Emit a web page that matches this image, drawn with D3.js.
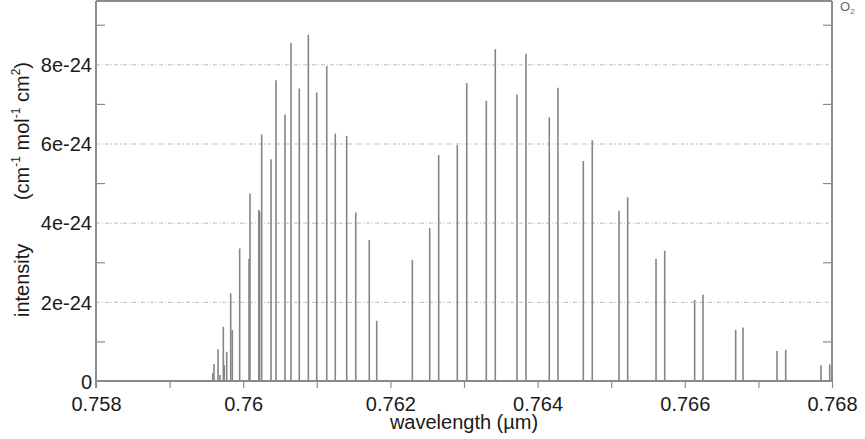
<!DOCTYPE html>
<html>
<head>
<meta charset="utf-8">
<script src="https://cdn.jsdelivr.net/npm/d3@7"></script>
<style>
  html, body { margin: 0; padding: 0; background: #fff; }
  svg { display: block; font-family: "Liberation Sans", Arial, Helvetica, sans-serif; }
</style>
</head>
<body>
<svg id="chart" width="865" height="439"></svg>
<script>
// ---- data (wavelength in µm, intensity in cm^-1 / (molecule cm^-2)) ----
const wavelengths = [
  0.759586, 0.759603, 0.759658, 0.759685, 0.759730, 0.759743, 0.759776, 0.759830, 0.759852,
  0.759952, 0.760079, 0.760092, 0.760212, 0.760222, 0.760251, 0.760378, 0.760446, 0.760568,
  0.760649, 0.760762, 0.760885, 0.760999, 0.761135, 0.761251, 0.761406, 0.761529, 0.761713,
  0.761814, 0.762298, 0.762534, 0.762656, 0.762909, 0.763037, 0.763303, 0.763425, 0.763720,
  0.763842, 0.764159, 0.764277, 0.764621, 0.764743, 0.765106, 0.765224, 0.765609, 0.765727,
  0.766134, 0.766247, 0.766691, 0.766791, 0.767253, 0.767371, 0.767850, 0.767969
];
const intensities = [
  0.20e-24, 0.43e-24, 0.80e-24, 0.15e-24, 1.37e-24, 0.40e-24, 0.74e-24, 2.21e-24, 1.29e-24,
  3.35e-24, 3.08e-24, 4.74e-24, 4.32e-24, 4.28e-24, 6.23e-24, 5.60e-24, 7.60e-24, 6.73e-24,
  8.54e-24, 7.39e-24, 8.75e-24, 7.29e-24, 7.96e-24, 6.25e-24, 6.19e-24, 4.26e-24, 3.56e-24,
  1.52e-24, 3.06e-24, 3.86e-24, 5.71e-24, 5.96e-24, 7.53e-24, 7.08e-24, 8.38e-24, 7.24e-24,
  8.27e-24, 6.66e-24, 7.41e-24, 5.56e-24, 6.08e-24, 4.30e-24, 4.64e-24, 3.08e-24, 3.29e-24,
  2.05e-24, 2.18e-24, 1.29e-24, 1.35e-24, 0.76e-24, 0.79e-24, 0.40e-24, 0.42e-24
];
const xTickValues = [0.758, 0.759, 0.760, 0.761, 0.762, 0.763, 0.764, 0.765, 0.766, 0.767, 0.768];
const xTickLabels = ["0.758", "", "0.76", "", "0.762", "", "0.764", "", "0.766", "", "0.768"];
const yMajorValues = [0, 2e-24, 4e-24, 6e-24, 8e-24];
const yMajorLabels = ["0", "2e-24", "4e-24", "6e-24", "8e-24"];
const yMinorValues = [1e-24, 3e-24, 5e-24, 7e-24, 9e-24];
const xDomain = [0.758, 0.768];
const yDomain = [0, 9.6e-24];

// ---- layout ----
const svg = d3.select("#chart");
const W = 865, H = 439;
const m = { left: 96, right: 33, top: 1, bottom: 58 };
const x = d3.scaleLinear().domain(xDomain).range([m.left, W - m.right]);
const y = d3.scaleLinear().domain(yDomain).range([H - m.bottom, m.top]);
const axisColor = "#8c8c8c";
const textColor = "#1a1a1a";

// grid lines (dashed)
svg.append("g")
  .attr("transform", `translate(${m.left},0)`)
  .call(d3.axisLeft(y).tickValues(yMajorValues.slice(1)).tickSize(-(W - m.left - m.right)).tickFormat(""))
  .call(g => g.select(".domain").remove())
  .call(g => g.selectAll("line").attr("stroke", "#bdbdbd").attr("stroke-width", 1).attr("stroke-dasharray", "4,2,1,2"));

// spectral lines
svg.append("g")
  .selectAll("line")
  .data(wavelengths.map((w, i) => ({ w, v: intensities[i] })))
  .join("line")
  .attr("x1", d => x(d.w)).attr("x2", d => x(d.w))
  .attr("y1", y(0)).attr("y2", d => y(d.v))
  .attr("stroke", "#858585")
  .attr("stroke-width", 1.6);

// baseline
svg.append("line")
  .attr("x1", x(xDomain[0])).attr("x2", x(xDomain[1]))
  .attr("y1", y(0)).attr("y2", y(0))
  .attr("stroke", "#8a8a8a").attr("stroke-width", 2.2);

// frame: top + right
svg.append("line")
  .attr("x1", x(xDomain[0])).attr("x2", x(xDomain[1]))
  .attr("y1", y(yDomain[1])).attr("y2", y(yDomain[1]))
  .attr("stroke", axisColor).attr("stroke-width", 2);
svg.append("line")
  .attr("x1", x(xDomain[1])).attr("x2", x(xDomain[1]))
  .attr("y1", y(yDomain[1])).attr("y2", y(0) + 1)
  .attr("stroke", axisColor).attr("stroke-width", 2);

// right minor ticks (inward)
svg.append("g")
  .attr("transform", `translate(${x(xDomain[1])},0)`)
  .call(d3.axisRight(y).tickValues(yMinorValues).tickSize(-9).tickFormat(""))
  .call(g => g.select(".domain").remove())
  .call(g => g.selectAll("line").attr("stroke", axisColor).attr("stroke-width", 1.2));

// left axis: labels
const yAxisG = svg.append("g")
  .attr("transform", `translate(${m.left},0)`)
  .call(d3.axisLeft(y).tickValues(yMajorValues).tickSize(0).tickPadding(4)
    .tickFormat((d, i) => yMajorLabels[i]));
yAxisG.select(".domain").remove();
yAxisG.selectAll("text")
  .attr("font-size", 20).attr("fill", textColor)
  .attr("font-family", '"Liberation Sans", Arial, sans-serif')
  .attr("dy", "0.36em");

// left minor ticks (inward)
svg.append("g")
  .attr("transform", `translate(${m.left},0)`)
  .call(d3.axisLeft(y).tickValues(yMinorValues).tickSize(-9).tickFormat(""))
  .call(g => g.select(".domain").remove())
  .call(g => g.selectAll("line").attr("stroke", axisColor).attr("stroke-width", 1.2));

// left axis line
svg.append("line")
  .attr("x1", m.left).attr("x2", m.left)
  .attr("y1", y(yDomain[1])).attr("y2", y(0) + 7)
  .attr("stroke", axisColor).attr("stroke-width", 2);

// bottom axis
const xAxisG = svg.append("g")
  .attr("transform", `translate(0,${y(0)})`)
  .call(d3.axisBottom(x).tickValues(xTickValues).tickSize(7).tickPadding(9)
    .tickFormat((d, i) => xTickLabels[i]));
xAxisG.select(".domain").remove();
xAxisG.selectAll("line").attr("stroke", axisColor).attr("stroke-width", 1.2);
xAxisG.selectAll("text")
  .attr("font-size", 20).attr("fill", textColor)
  .attr("font-family", '"Liberation Sans", Arial, sans-serif');

// x axis title
svg.append("text")
  .attr("x", (x(xDomain[0]) + x(xDomain[1])) / 2)
  .attr("y", 429)
  .attr("text-anchor", "middle")
  .attr("font-size", 20).attr("fill", textColor)
  .text("wavelength (µm)");

// y axis title (two parts)
svg.append("text")
  .attr("transform", `translate(29,317) rotate(-90)`)
  .attr("text-anchor", "start")
  .attr("font-size", 20).attr("fill", textColor)
  .text("intensity");

const units = svg.append("text")
  .attr("transform", `translate(29,62) rotate(-90)`)
  .attr("text-anchor", "end")
  .attr("font-size", 20).attr("fill", textColor);
units.append("tspan").text("(cm");
units.append("tspan").attr("font-size", 12).attr("dy", -9).text("-1");
units.append("tspan").attr("dy", 9).text(" mol");
units.append("tspan").attr("font-size", 12).attr("dy", -9).text("-1");
units.append("tspan").attr("dy", 9).text(" cm");
units.append("tspan").attr("font-size", 12).attr("dy", -9).text("2");
units.append("tspan").attr("dy", 9).text(")");

// species label
const sp = svg.append("text")
  .attr("x", 840).attr("y", 11)
  .attr("font-size", 13).attr("fill", "#666");
sp.append("tspan").text("O");
sp.append("tspan").attr("font-size", 8).attr("dy", 3).text("2");
</script>
</body>
</html>
